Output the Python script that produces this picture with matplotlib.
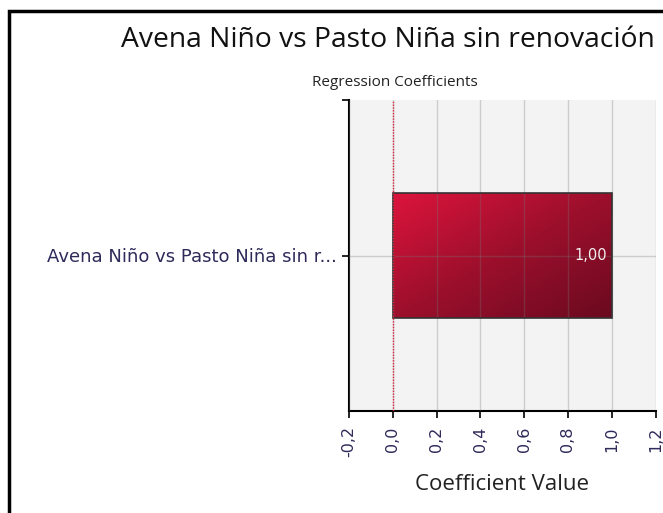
import numpy as np
import matplotlib.pyplot as plt
from matplotlib.patches import Rectangle
from matplotlib.colors import LinearSegmentedColormap

title = 'Avena Niño vs Pasto Niña sin renovación'
subtitle = 'Regression Coefficients'
categories = ['Avena Niño vs Pasto Niña sin r...']
values = [1.00]
xticks = [-0.2, 0.0, 0.2, 0.4, 0.6, 0.8, 1.0, 1.2]

plt.rcParams['font.family'] = ['Open Sans', 'DejaVu Sans']

fig = plt.figure(figsize=(6.63, 5.13), dpi=100)
ax = fig.add_axes([349 / 663, 1 - 411 / 513, 306.5 / 663, 311 / 513])
ax.set_facecolor('#f3f3f3')

ax.set_xlim(-0.2, 1.2)
ax.set_ylim(-0.5, 0.5)

# gradient filled bars
cmap = LinearSegmentedColormap.from_list('red', ['#dc143c', '#9c0f2c', '#6a0a1f'])
gy, gx = np.mgrid[0:1:100j, 0:1:100j]
grad = (gx + gy) / 2
h = 0.4
for i, v in enumerate(values):
    ax.imshow(grad, cmap=cmap, extent=[0, v, i - h / 2, i + h / 2],
              origin='upper', aspect='auto', zorder=2)
    ax.add_patch(Rectangle((0, i - h / 2), v, h, fill=False,
                           edgecolor='#333333', lw=1.2, zorder=4))
    ax.text(v - 0.02, i, f'{v:.2f}'.replace('.', ','), color='#f4eef0',
            ha='right', va='center', fontsize=10.5, family='DejaVu Sans',
            zorder=5)

# grid over the bars
for t in xticks:
    ax.axvline(t, color='#777777', lw=1, alpha=0.3, zorder=3)
ax.axhline(0, color='#777777', lw=1, alpha=0.3, zorder=3)
ax.axvline(0, color='#e0203c', lw=1, ls=(0, (1, 1)), zorder=4)

ax.set_xticks(xticks)
ax.set_xticklabels([f'{t:.1f}'.replace('.', ',') for t in xticks],
                   rotation=90, color='#2e2a5a', fontsize=11.5,
                   family='DejaVu Sans')
ax.set_yticks([0, 0.5])
ax.set_yticklabels([categories[0], ''], color='#2e2a5a', fontsize=13,
                   family='DejaVu Sans')
ax.tick_params(axis='both', length=5, width=1.2, color='black')
ax.tick_params(axis='x', pad=6)

for s in ['top', 'right']:
    ax.spines[s].set_visible(False)
for s in ['left', 'bottom']:
    ax.spines[s].set_linewidth(1.5)

ax.set_xlabel('Coefficient Value', fontsize=16, color='#222222', labelpad=12)

fig.text(388 / 663, 1 - 40 / 513, title, ha='center', va='center',
         fontsize=20.3, color='#111111')
fig.text(395 / 663, 1 - 83 / 513, subtitle, ha='center', va='center',
         fontsize=11, color='#222222')

# outer frame
fig.patches.append(Rectangle((8.5 / 663, -0.1), 1.2, 1 - 11 / 513 + 0.1,
                             transform=fig.transFigure, fill=False,
                             edgecolor='black', lw=2.5))

fig.savefig('out.png', dpi=100)
